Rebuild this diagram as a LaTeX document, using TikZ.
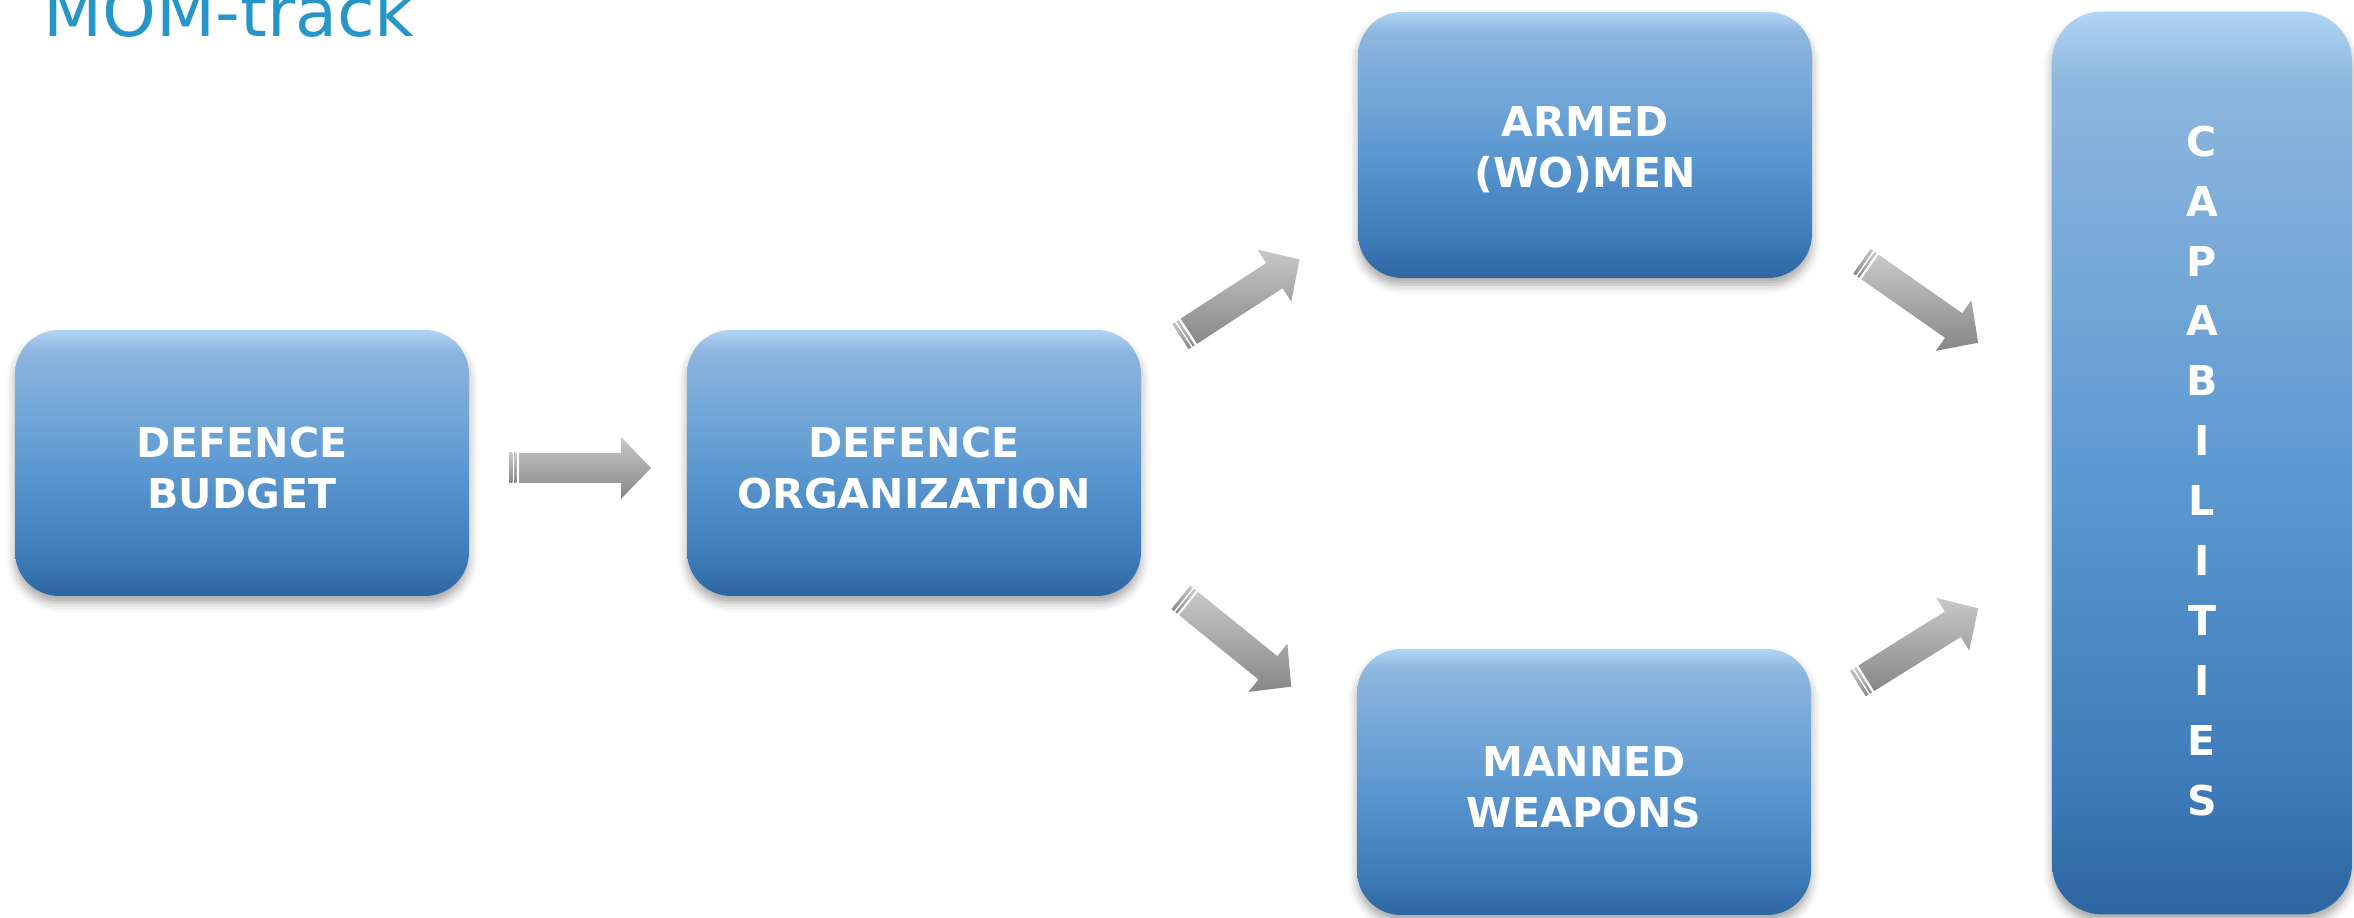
\documentclass[tikz,border=0pt]{standalone}
\usepackage{fontspec}
\setmainfont{DejaVu Sans}
\usetikzlibrary{shadows.blur}
\definecolor{titleblue}{RGB}{38,150,200}
\definecolor{boxhi}{RGB}{176,212,244}
\definecolor{boxtop}{RGB}{140,182,222}
\definecolor{boxmid}{RGB}{94,154,210}
\definecolor{boxlow}{RGB}{61,122,184}
\definecolor{boxbot}{RGB}{45,102,161}
\definecolor{arrowlight}{RGB}{200,200,200}
\definecolor{arrowdark}{RGB}{135,135,135}
\pgfdeclareverticalshading{boxshade}{100bp}{color(0bp)=(boxbot); color(25bp)=(boxbot);
  color(32bp)=(boxlow); color(50bp)=(boxmid); color(71bp)=(boxtop); color(75bp)=(boxhi); color(100bp)=(boxhi)}
\def\boxfont{\fontsize{23.4}{29}\selectfont\bfseries}
\def\lift#1{\rule{0pt}{#1}}
\newcommand\blockarrow[2]{%
  \begin{scope}[shift={#1}, rotate=#2]
    \shade[arrowshade] (-61,-15) -- (41,-15) -- (41,-31) -- (71,0) -- (41,31) -- (41,15) -- (-61,15) -- cycle;
    \shade[arrowshade] (-71,-15) rectangle (-67.7,15);
    \shade[arrowshade] (-66,-15) rectangle (-63.6,15);
  \end{scope}}

\begin{document}
\begin{tikzpicture}[x=0.02cm, y=0.02cm,
    block/.style={shading=boxshade, rounded corners=0.88cm, text=white, font=\boxfont,
      align=center, minimum width=9.08cm, minimum height=5.32cm, inner sep=0pt,
      blur shadow={shadow xshift=0pt, shadow yshift=-4pt, shadow blur radius=5pt, shadow opacity=35}},
    arrowshade/.style={top color=arrowlight, bottom color=arrowdark}]
\useasboundingbox (0,0) rectangle (2354,918);
\node[anchor=base west, inner sep=0pt, text=titleblue, font=\fontsize{39}{47}\selectfont] (title) at (43,881) {MOM-track};
\node[block] (budget) at (242,455) {\lift{0.8cm}DEFENCE\\BUDGET};
\node[block] (organization) at (914,455) {\lift{0.8cm}DEFENCE\\ORGANIZATION};
\node[block] (armed) at (1585,773) {\lift{0.8cm}ARMED\\(WO)MEN};
\node[block] (weapons) at (1584,136) {\lift{0.8cm}MANNED\\WEAPONS};
\node[block, minimum width=6cm, minimum height=18.06cm, rounded corners=1cm,
  font=\fontsize{23.4}{34.1}\selectfont\bfseries] (capab) at (2202,455)
  {\lift{0.92cm}C\\A\\P\\A\\B\\I\\L\\I\\T\\I\\E\\S};
% arrows between the blocks
\coordinate (budgetorg) at (580,450);
\coordinate (orgarmed) at (1240,620);
\coordinate (orgweapons) at (1236,276);
\coordinate (armedcap) at (1920,616);
\coordinate (weaponscap) at (1918,272);
\blockarrow{(budgetorg)}{0}
\blockarrow{(orgarmed)}{33}
\blockarrow{(orgweapons)}{-39}
\blockarrow{(armedcap)}{-35}
\blockarrow{(weaponscap)}{32}
\end{tikzpicture}
\end{document}
